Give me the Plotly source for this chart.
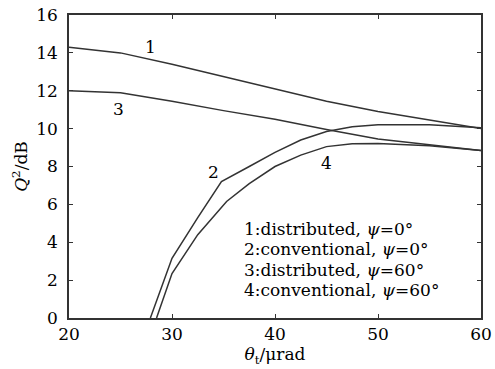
import plotly.graph_objects as go

# Curve 1: distributed, psi=0
x1 = [20, 25, 30, 35, 40, 45, 50, 55, 60]
y1 = [14.3, 14.0, 13.4, 12.75, 12.1, 11.45, 10.9, 10.45, 10.0]
# Curve 2: conventional, psi=0
x2 = [27.9, 29.0, 30.0, 32.5, 34.8, 37.5, 40, 42.5, 45, 47.5, 50, 55, 60]
y2 = [0.0, 1.7, 3.15, 5.3, 7.2, 8.0, 8.75, 9.4, 9.85, 10.1, 10.2, 10.2, 10.05]
# Curve 3: distributed, psi=60
x3 = [20, 25, 30, 35, 40, 45, 50, 55, 60]
y3 = [12.0, 11.9, 11.45, 10.95, 10.5, 9.95, 9.45, 9.15, 8.85]
# Curve 4: conventional, psi=60
x4 = [28.5, 29.3, 30.0, 32.5, 35.3, 37.5, 40, 42.5, 45, 47.5, 50, 55, 60]
y4 = [0.0, 1.3, 2.35, 4.4, 6.15, 7.1, 8.0, 8.6, 9.05, 9.2, 9.22, 9.1, 8.85]

curve_labels = ["1", "2", "3", "4"]
label_x = [27.9, 34.0, 24.8, 45.0]
label_y = [14.33, 7.7, 11.03, 8.19]
legend_lines = ["1:distributed, <i>ψ</i>=0°", "2:conventional, <i>ψ</i>=0°",
                "3:distributed, <i>ψ</i>=60°", "4:conventional, <i>ψ</i>=60°"]

x_ticks = [20, 30, 40, 50, 60]
y_ticks = [0, 2, 4, 6, 8, 10, 12, 14, 16]

FONT = "DejaVu Serif"
FS = 17
line = dict(color="#333333", width=1.5)

fig = go.Figure()
for xs, ys in [(x1, y1), (x2, y2), (x3, y3), (x4, y4)]:
    fig.add_trace(go.Scatter(x=xs, y=ys, mode="lines", line=line, showlegend=False,
                             hoverinfo="skip"))

for t, lx, ly in zip(curve_labels, label_x, label_y):
    fig.add_annotation(x=lx, y=ly, text=t, showarrow=False,
                       font=dict(family=FONT, size=FS, color="black"))

for i, t in enumerate(legend_lines):
    fig.add_annotation(x=36.8, y=4.7 - i * 1.07, text=t, showarrow=False,
                       xanchor="left", yanchor="middle",
                       font=dict(family=FONT, size=FS, color="black"))

axis_common = dict(showline=True, linecolor="#333333", linewidth=1.5, mirror="ticks",
                   ticks="inside", ticklen=4, tickcolor="#333333", tickwidth=1,
                   showgrid=False, zeroline=False, automargin=False,
                   tickfont=dict(family=FONT, size=FS, color="black"))

fig.update_xaxes(range=[20, 60], tickvals=x_ticks, ticklabelstandoff=0,
                 title=dict(text="<i>θ</i><sub>t</sub>/μrad", standoff=2,
                            font=dict(family=FONT, size=FS, color="black")),
                 **axis_common)
fig.update_yaxes(range=[0, 16], tickvals=y_ticks, ticklabelstandoff=6,
                 title=dict(text="<i>Q</i><sup>2</sup>/dB", standoff=4,
                            font=dict(family=FONT, size=FS, color="black")),
                 **axis_common)

fig.update_layout(width=495, height=369,
                  margin=dict(l=69, r=14, t=15, b=51),
                  font=dict(family=FONT),
                  paper_bgcolor="white", plot_bgcolor="white")

fig.write_html("out.html", config={"displayModeBar": False},
               post_script="document.body.style.margin='0';document.body.style.padding='0';")
